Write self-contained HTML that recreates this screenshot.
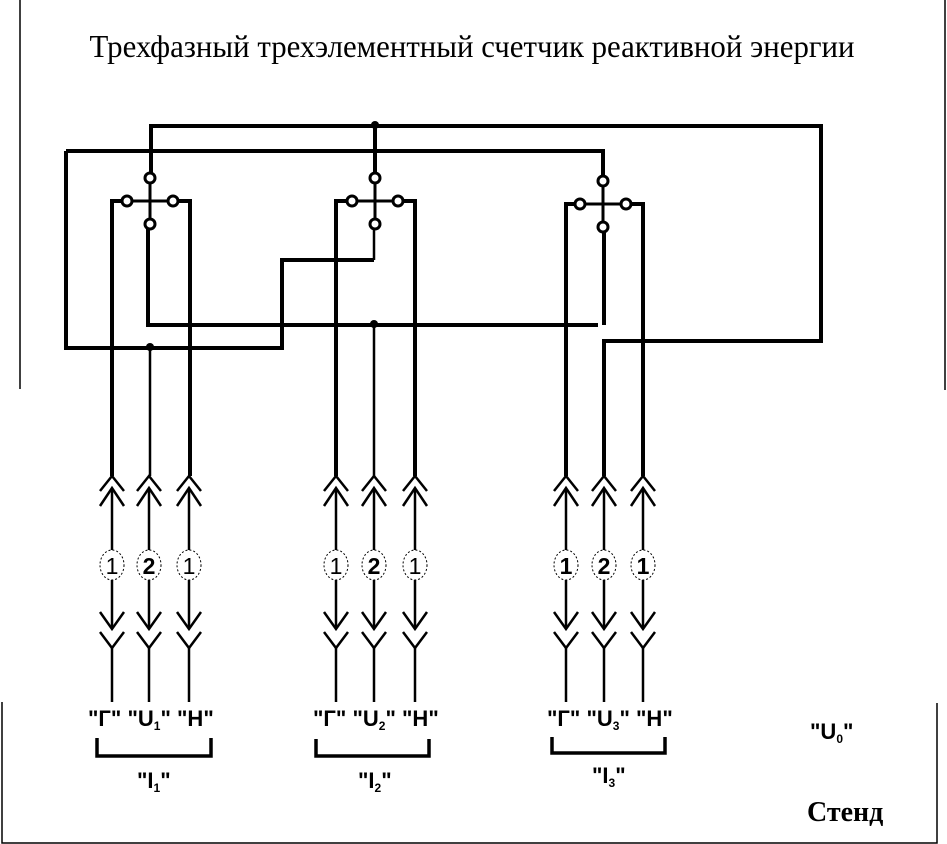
<!DOCTYPE html>
<html><head><meta charset="utf-8"><style>
html,body{margin:0;padding:0;background:#fff}
svg{display:block}
</style></head><body>
<svg width="947" height="844" viewBox="0 0 947 844" xmlns="http://www.w3.org/2000/svg">
<defs>
<g id="col" fill="none" stroke="#000" stroke-width="2.5">
<polyline points="-12,491 0,476 12,491"/>
<polyline points="-12,506 0,488 12,506"/>
<line x1="0" y1="488" x2="0" y2="550"/>
<ellipse cx="0" cy="565" rx="12" ry="15" stroke-width="1" stroke-dasharray="2,2"/>
<line x1="0" y1="580" x2="0" y2="628"/>
<polyline points="-12,612 0,629 12,612"/>
<polyline points="-12,632 0,648 12,632"/>
<line x1="0" y1="648" x2="0" y2="702"/>
</g>
<g id="term" fill="#fff" stroke="#000" stroke-width="3">
<line x1="0" y1="-23" x2="0" y2="23"/>
<line x1="-24" y1="0" x2="24" y2="0"/>
<circle cx="0" cy="-23" r="5"/>
<circle cx="-23" cy="0" r="5"/>
<circle cx="23" cy="0" r="5"/>
<circle cx="0" cy="23" r="5"/>
</g>
</defs>
<g stroke="#000" stroke-width="1.5" fill="none">
<line x1="20" y1="0" x2="20" y2="389"/>
<line x1="945" y1="0" x2="945" y2="390"/>
<polyline points="2,702 2,843 937,843 937,703"/>
</g>
<text x="472" y="57" text-anchor="middle" font-family="Liberation Serif, serif" font-size="32" textLength="765" lengthAdjust="spacingAndGlyphs">Трехфазный трехэлементный счетчик реактивной энергии</text>

<g fill="none" stroke="#000" stroke-width="4">
<polyline points="151,178 151,126 821,126 821,341 604,341 604,476"/>
<line x1="375" y1="126" x2="375" y2="178"/>
<polyline points="66,151 603,151 603,180"/>
<polyline points="66,151 66,348 282,348 282,260 374,260"/>
<polyline points="148,224 148,325 598,325"/>
<line x1="604" y1="227" x2="604" y2="325"/>
<polyline points="112,476 112,201 127,201"/>
<polyline points="190,476 190,201 173,201"/>
<polyline points="336,476 336,201 351,201"/>
<polyline points="415,476 415,201 398,201"/>
<polyline points="566,476 566,204 581,204"/>
<polyline points="643,476 643,204 628,204"/>
</g>
<g stroke="#000" stroke-width="2.5" fill="none">
<line x1="374" y1="224" x2="374" y2="260"/>
<line x1="150" y1="348" x2="150" y2="476"/>
<line x1="374" y1="325" x2="374" y2="476"/>
</g>
<g fill="#000">
<circle cx="375" cy="125" r="4"/>
<circle cx="150" cy="347" r="4"/>
<circle cx="374" cy="324" r="4"/>
</g>
<use href="#term" x="150" y="201"/>
<use href="#term" x="375" y="201"/>
<use href="#term" x="603" y="204"/>

<use href="#col" x="112" y="0"/><use href="#col" x="149" y="0"/><use href="#col" x="189" y="0"/>
<use href="#col" x="336" y="0"/><use href="#col" x="374" y="0"/><use href="#col" x="415" y="0"/>
<use href="#col" x="566" y="0"/><use href="#col" x="604" y="0"/><use href="#col" x="643" y="0"/>

<g font-family="Liberation Sans, sans-serif" font-size="23" text-anchor="middle">
<text x="112" y="574">1</text><text x="149" y="574" font-weight="bold">2</text><text x="189" y="574">1</text>
<text x="336" y="574">1</text><text x="374" y="574" font-weight="bold">2</text><text x="415" y="574">1</text>
<text x="566" y="574" font-weight="bold">1</text><text x="604" y="574" font-weight="bold">2</text><text x="643" y="574" font-weight="bold">1</text>
</g>

<g font-family="Liberation Sans, sans-serif" font-size="22" font-weight="bold">
<text x="88" y="726">"Г" "U<tspan font-size="12" dy="4">1</tspan><tspan dy="-4">" "Н"</tspan></text>
<text x="313" y="726">"Г" "U<tspan font-size="12" dy="4">2</tspan><tspan dy="-4">" "Н"</tspan></text>
<text x="547" y="726">"Г" "U<tspan font-size="12" dy="4">3</tspan><tspan dy="-4">" "Н"</tspan></text>
<text x="810" y="739">"U<tspan font-size="12" dy="4">0</tspan><tspan dy="-4">"</tspan></text>
<text x="137" y="788">"I<tspan font-size="12" dy="4">1</tspan><tspan dy="-4">"</tspan></text>
<text x="358" y="788">"I<tspan font-size="12" dy="4">2</tspan><tspan dy="-4">"</tspan></text>
<text x="592" y="783">"I<tspan font-size="12" dy="4">3</tspan><tspan dy="-4">"</tspan></text>
</g>
<g fill="none" stroke="#000" stroke-width="3.5">
<polyline points="97,738 97,756 211,756 211,738"/>
<polyline points="316,739 316,756 429,756 429,739"/>
<polyline points="552,737 552,753 665,753 665,737"/>
</g>
<text x="807" y="821" font-family="Liberation Serif, serif" font-size="28" font-weight="bold">Стенд</text>
</svg>
</body></html>
